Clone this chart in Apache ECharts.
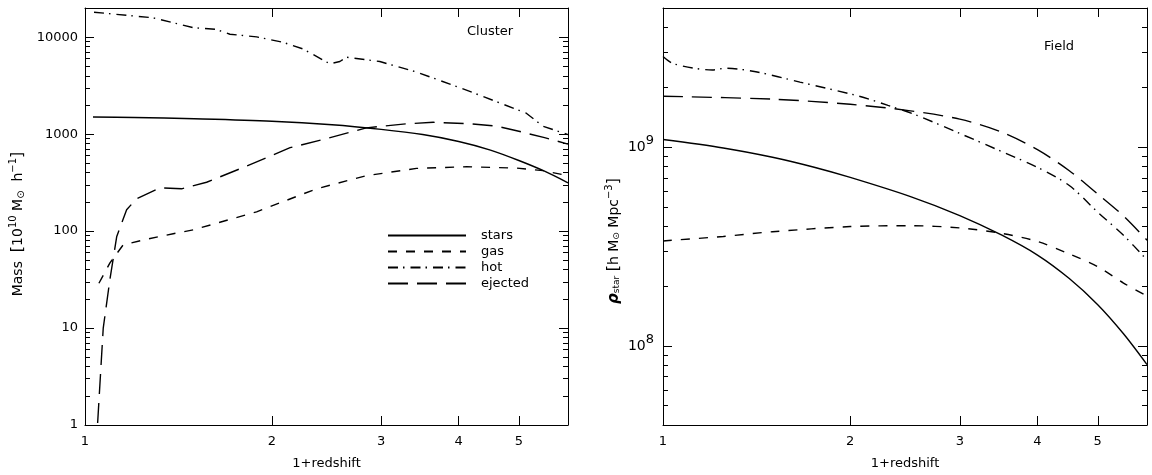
<!DOCTYPE html>
<html><head><meta charset="utf-8">
<script src="https://cdn.jsdelivr.net/npm/echarts@6/dist/echarts.min.js"></script>
<style>html,body{margin:0;padding:0;background:#fff}#c{width:1152px;height:475px}</style>
</head><body><div id="c"></div>
<script>
// ---------- data ----------
const seriesNames = ['stars', 'gas', 'hot', 'ejected'];

// Cluster panel (1+z, mass in 1e10 Msun/h)
const clusterStarsX = [1.03, 1.2, 1.5, 2.0, 2.5, 3.0, 3.5, 4.0, 4.5, 5.0, 5.5, 6.0];
const clusterStarsY = [1500, 1485, 1440, 1360, 1250, 1120, 990, 840, 685, 535, 415, 315];
const clusterGasX = [1.053, 1.097, 1.152, 1.241, 1.387, 1.494, 1.89, 2.36, 2.84, 3.42, 4.12, 4.96, 5.47, 6.0];
const clusterGasY = [29, 47, 72, 81, 94, 103, 158, 273, 373, 443, 461, 446, 420, 373];
const clusterHotX = [1.034, 1.287, 1.493, 1.624, 1.712, 1.89, 2.086, 2.247, 2.48, 2.574, 2.64, 2.985, 3.42, 4.02, 4.6, 5.14, 5.47, 6.0];
const clusterHotY = [18100, 15850, 12550, 12050, 10730, 10080, 8840, 7550, 5310, 5610, 6210, 5610, 4370, 3010, 2165, 1645, 1205, 990];
const clusterEjectedX = [1.048, 1.07, 1.097, 1.125, 1.167, 1.211, 1.32, 1.431, 1.57, 1.8, 2.14, 2.42, 2.84, 3.255, 3.64, 4.17, 4.6, 5.0, 5.5, 6.0];
const clusterEjectedY = [1.05, 10, 32, 88, 166, 216, 279, 273, 319, 454, 725, 880, 1160, 1270, 1325, 1280, 1210, 1070, 920, 790];

// Field panel (1+z, rho_star in h Msun Mpc^-3)
const fieldStarsX = [1, 1.25, 1.5, 1.75, 2, 2.5, 3, 3.5, 4, 4.5, 5, 5.5, 6];
const fieldStarsY = [1.09e9, 9.89e8, 8.88e8, 7.91e8, 7.03e8, 5.63e8, 4.52e8, 3.61e8, 2.86e8, 2.18e8, 1.61e8, 1.15e8, 8.05e7];
const fieldGasX = [1, 1.25, 1.5, 2, 2.5, 3, 3.5, 4, 4.5, 5, 5.5, 6];
const fieldGasY = [3.37e8, 3.55e8, 3.75e8, 3.98e8, 4.02e8, 3.92e8, 3.68e8, 3.35e8, 2.9e8, 2.5e8, 2.07e8, 1.78e8];
const fieldHotX = [1.0, 1.04, 1.2, 1.26, 1.41, 1.66, 2.04, 2.3, 2.55, 3.0, 3.5, 4.0, 4.5, 5.0, 5.5, 6.0];
const fieldHotY = [2.85e9, 2.62e9, 2.44e9, 2.49e9, 2.39e9, 2.12e9, 1.82e9, 1.62e9, 1.45e9, 1.17e9, 9.5e8, 7.9e8, 6.4e8, 4.7e8, 3.6e8, 2.7e8];
const fieldEjectedX = [1, 1.5, 2, 2.5, 3, 3.5, 4, 4.5, 5, 5.5, 6];
const fieldEjectedY = [1.80e9, 1.74e9, 1.64e9, 1.52e9, 1.38e9, 1.19e9, 9.7e8, 7.6e8, 5.8e8, 4.5e8, 3.4e8];

// tick labels / tick positions
const xLabelValues = [1, 2, 3, 4, 5];
const xTickValues = [2, 3, 4, 5];
const clusterMajorTicks = [1, 10, 100, 1000, 10000];
const clusterMinorTicks = [2,3,4,5,6,7,8,9, 20,30,40,50,60,70,80,90, 200,300,400,500,600,700,800,900,
  2000,3000,4000,5000,6000,7000,8000,9000, 20000];
const fieldMajorTicks = [1e8, 1e9];
const fieldMinorTicks = [4e7,5e7,6e7,7e7,8e7,9e7, 2e8,3e8,4e8,5e8,6e8,7e8,8e8,9e8, 2e9,3e9,4e9,5e9];

// ---------- chart ----------
const FONT = 'DejaVu Sans';
const L = Math.log10;
const lg = arr => arr.map(v => L(v));
const pairs = (xs, ys) => xs.map((x, i) => [x, ys[i]]);

const dash = {
  stars: 'solid',
  gas: [9, 9],
  hot: [10, 5, 1.5, 6],
  ejected: [20, 9]
};

const panels = [
  { grid: { left: 85, top: 8, width: 483, height: 423 }, xmin: 1, xmax: 6, ymin: 1, ymax: 20000,
    major: clusterMajorTicks, minor: clusterMinorTicks,
    fmt: v => String(Math.round(Math.pow(10, v))), labelMargin: 7,
    data: { stars: pairs(clusterStarsX, clusterStarsY), gas: pairs(clusterGasX, clusterGasY),
            hot: pairs(clusterHotX, clusterHotY), ejected: pairs(clusterEjectedX, clusterEjectedY) } },
  { grid: { left: 663, top: 8, width: 484, height: 423 }, xmin: 1, xmax: 6, ymin: 4e7, ymax: 5e9,
    major: fieldMajorTicks, minor: fieldMinorTicks,
    fmt: v => '{b|10}{s|' + Math.round(v) + '}', labelMargin: 9,
    data: { stars: pairs(fieldStarsX, fieldStarsY), gas: pairs(fieldGasX, fieldGasY),
            hot: pairs(fieldHotX, fieldHotY), ejected: pairs(fieldEjectedX, fieldEjectedY) } }
];

const grids = [], xAxes = [], yAxes = [], series = [];
const black = { color: '#000', width: 1 };

panels.forEach((p, g) => {
  grids.push(Object.assign({ containLabel: false }, p.grid));
  const xData = xAxes.length;
  xAxes.push({ type: 'log', logBase: 10, gridIndex: g, min: p.xmin, max: p.xmax, show: false });
  const xlo = L(p.xmin), xhi = L(p.xmax);
  ['bottom', 'top'].forEach(pos => {
    xAxes.push({
      type: 'value', gridIndex: g, position: pos, min: xlo, max: xhi,
      axisLine: { show: true, onZero: false, lineStyle: black },
      splitLine: { show: false },
      axisTick: { show: true, inside: true, length: 9, customValues: lg(xTickValues), lineStyle: black },
      axisLabel: pos === 'bottom' ? {
        show: true, customValues: lg(xLabelValues), formatter: v => String(Math.round(Math.pow(10, v))),
        margin: 10, color: '#000', fontSize: 13, fontFamily: FONT
      } : { show: false },
      name: pos === 'bottom' ? '1+redshift' : '', nameLocation: 'middle', nameGap: 32,
      nameTextStyle: { color: '#000', fontSize: 13, fontFamily: FONT }
    });
  });
  const yData = yAxes.length;
  yAxes.push({ type: 'log', logBase: 10, gridIndex: g, min: p.ymin, max: p.ymax, show: false });
  const ylo = L(p.ymin), yhi = L(p.ymax);
  ['left', 'right'].forEach(pos => {
    yAxes.push({
      type: 'value', gridIndex: g, position: pos, min: ylo, max: yhi,
      axisLine: { show: true, onZero: false, lineStyle: black },
      splitLine: { show: false },
      axisTick: { show: true, inside: true, length: 9, customValues: lg(p.major), lineStyle: black },
      axisLabel: pos === 'left' ? {
        show: true, customValues: lg(p.major), formatter: p.fmt, margin: p.labelMargin,
        color: '#000', fontSize: 13, fontFamily: FONT,
        rich: { b: { fontSize: 14, fontFamily: FONT, color: '#000' },
                s: { fontSize: 13, fontFamily: FONT, color: '#000', padding: [0, 0, 12, 0] } }
      } : { show: false }
    });
    yAxes.push({
      type: 'value', gridIndex: g, position: pos, min: ylo, max: yhi,
      axisLine: { show: false, onZero: false },
      splitLine: { show: false },
      axisTick: { show: true, inside: true, length: 5, customValues: lg(p.minor), lineStyle: black },
      axisLabel: { show: false }
    });
  });
  seriesNames.forEach(n => {
    series.push({
      name: n, type: 'line', xAxisIndex: xData, yAxisIndex: yData,
      data: p.data[n], symbol: 'none', showSymbol: false,
      smooth: (n === 'stars' || g === 1) ? 0.3 : false,
      lineStyle: { color: '#000', width: 1.4, type: dash[n] },
      itemStyle: { color: '#000' },
      emphasis: { disabled: true }, animation: false
    });
  });
});

const richBase = { color: '#000', fontFamily: FONT };
const chart = echarts.init(document.getElementById('c'), null, { renderer: 'canvas' });
chart.setOption({
  backgroundColor: '#fff',
  animation: false,
  grid: grids, xAxis: xAxes, yAxis: yAxes, series: series,
  legend: {
    data: seriesNames, orient: 'vertical', left: 382, top: 224,
    itemWidth: 78, itemHeight: 14, itemGap: 3, selectedMode: false,
    itemStyle: { opacity: 0, color: 'rgba(0,0,0,0)', borderWidth: 0 },
    textStyle: { color: '#000', fontSize: 13, fontFamily: FONT, padding: [0, 0, 3, 10] }
  },
  graphic: [
    { type: 'text', left: 467, top: 25, style: { text: 'Cluster', fill: '#000', font: '13px "DejaVu Sans"' } },
    { type: 'text', left: 1044, top: 40, style: { text: 'Field', fill: '#000', font: '13px "DejaVu Sans"' } },
    { type: 'text', x: 18, y: 224, rotation: Math.PI / 2,
      style: { text: '{t|Mass  }{br|[}{t|10}{sp|10}{t| M}{sb|⊙}{t|  h}{sp|−1}{br|]}', align: 'center', verticalAlign: 'middle',
        rich: { t: Object.assign({ fontSize: 14 }, richBase),
                br: Object.assign({ fontSize: 16 }, richBase),
                sp: Object.assign({ fontSize: 10, padding: [0, 0, 9, 0] }, richBase),
                sb: Object.assign({ fontSize: 10, padding: [6, 0, 0, 0] }, richBase) } } },
    { type: 'text', x: 614, y: 241, rotation: Math.PI / 2,
      style: { text: '{rho|ρ}{sb|star}{t| }{br|[}{t|h M}{sb|⊙}{t| Mpc}{sp|−3}{br|]}', align: 'center', verticalAlign: 'middle',
        rich: { t: Object.assign({ fontSize: 14 }, richBase),
                br: Object.assign({ fontSize: 16 }, richBase),
                rho: Object.assign({ fontSize: 15, fontStyle: 'italic', fontWeight: 'bold' }, richBase),
                sp: Object.assign({ fontSize: 10, padding: [0, 0, 9, 0] }, richBase),
                sb: Object.assign({ fontSize: 9, padding: [6, 0, 0, 0] }, richBase) } } }
  ]
});
</script></body></html>
